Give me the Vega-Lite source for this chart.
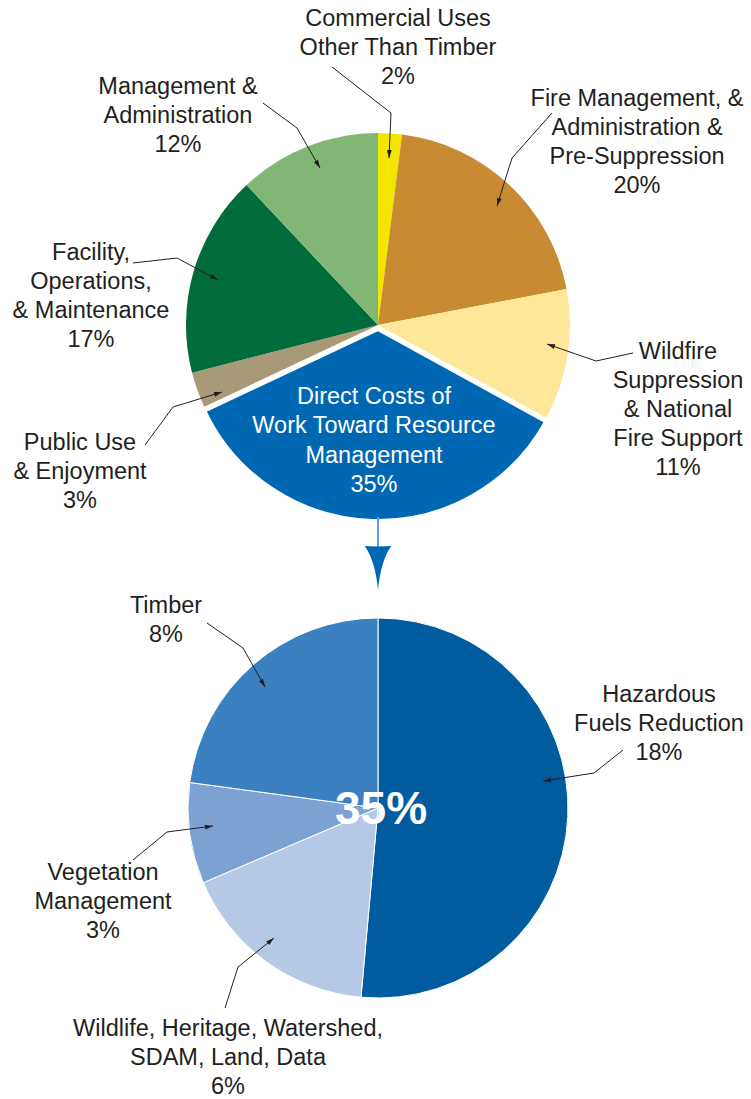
{
  "$schema": "https://vega.github.io/schema/vega-lite/v6.json",
  "width": 751,
  "height": 1099,
  "padding": 0,
  "autosize": {"type": "none"},
  "background": "white",
  "config": {"view": {"stroke": null}, "font": "Liberation Sans"},
  "datasets": {
    "top": [
      {"name": "Commercial Uses Other Than Timber", "value": 2, "ord": 1},
      {"name": "Fire Management, & Administration & Pre-Suppression", "value": 20, "ord": 2},
      {"name": "Wildfire Suppression & National Fire Support", "value": 11, "ord": 3},
      {"name": "Direct Costs of Work Toward Resource Management", "value": 35, "ord": 4},
      {"name": "Public Use & Enjoyment", "value": 3, "ord": 5},
      {"name": "Facility, Operations, & Maintenance", "value": 17, "ord": 6},
      {"name": "Management & Administration", "value": 12, "ord": 7}
    ],
    "bottom": [
      {"name": "Hazardous Fuels Reduction", "value": 18, "ord": 1},
      {"name": "Wildlife, Heritage, Watershed, SDAM, Land, Data", "value": 6, "ord": 2},
      {"name": "Vegetation Management", "value": 3, "ord": 3},
      {"name": "Timber", "value": 8, "ord": 4}
    ],
    "labels": [
      {"text": "Commercial Uses\nOther Than Timber\n2%", "x": 398, "y": 26, "inside": false},
      {"text": "Management &\nAdministration\n12%", "x": 178, "y": 94, "inside": false},
      {"text": "Fire Management, &\nAdministration &\nPre-Suppression\n20%", "x": 637, "y": 106, "inside": false},
      {"text": "Wildfire\nSuppression\n& National\nFire Support\n11%", "x": 678, "y": 359, "inside": false},
      {"text": "Facility,\nOperations,\n& Maintenance\n17%", "x": 91, "y": 260, "inside": false},
      {"text": "Public Use\n& Enjoyment\n3%", "x": 80, "y": 450, "inside": false},
      {"text": "Direct Costs of\nWork Toward Resource\nManagement\n35%", "x": 374, "y": 404, "inside": true},
      {"text": "Timber\n8%", "x": 166, "y": 613, "inside": false},
      {"text": "Hazardous\nFuels Reduction\n18%", "x": 659, "y": 702, "inside": false},
      {"text": "Vegetation\nManagement\n3%", "x": 103, "y": 880, "inside": false},
      {"text": "Wildlife, Heritage, Watershed,\nSDAM, Land, Data\n6%", "x": 228, "y": 1036, "inside": false}
    ],
    "leaders": [
      {"id": "Commercial", "ax": 332, "ay": 67, "bx": 391, "by": 113, "tx": 389, "ty": 158},
      {"id": "Management", "ax": 263, "ay": 103, "bx": 297, "by": 128, "tx": 320, "ty": 168},
      {"id": "Fire", "ax": 552, "ay": 113, "bx": 512, "by": 158, "tx": 497, "ty": 206},
      {"id": "Wildfire", "ax": 633, "ay": 353, "bx": 596, "by": 361, "tx": 547, "ty": 344},
      {"id": "Facility", "ax": 133, "ay": 263, "bx": 177, "by": 258, "tx": 218, "ty": 280},
      {"id": "Public", "ax": 145, "ay": 445, "bx": 173, "by": 407, "tx": 222, "ty": 392},
      {"id": "Timber", "ax": 207, "ay": 623, "bx": 243, "by": 648, "tx": 265, "ty": 687},
      {"id": "Hazardous", "ax": 623, "ay": 750, "bx": 594, "by": 773, "tx": 543, "ty": 781},
      {"id": "Vegetation", "ax": 133, "ay": 860, "bx": 167, "by": 832, "tx": 213, "ty": 826},
      {"id": "Wildlife", "ax": 225, "ay": 1008, "bx": 238, "by": 967, "tx": 274, "ty": 938}
    ],
    "connector": [{"x": 378, "y": 517, "y2": 548, "hy": 568}],
    "center": [{"text": "35%", "x": 381, "y": 824}]
  },
  "resolve": {"scale": {"theta": "independent"}},
  "layer": [
    {
      "data": {"name": "top"},
      "transform": [
        {"stack": "value", "groupby": [], "sort": [{"field": "ord", "order": "ascending"}], "as": ["t0", "t1"]},
        {"filter": "datum.ord != 4"}
      ],
      "mark": {"type": "arc", "outerRadius": 192, "innerRadius": 0},
      "encoding": {
        "x": {"datum": 378, "type": "quantitative", "scale": {"domain": [0, 751], "nice": false, "zero": false}, "axis": null},
        "y": {"datum": 325, "type": "quantitative", "scale": {"domain": [0, 1099], "nice": false, "zero": false, "reverse": true}, "axis": null},
        "theta": {"field": "t0", "type": "quantitative", "scale": {"domain": [0, 100]}},
        "theta2": {"field": "t1"},
        "color": {"field": "name", "type": "nominal", "legend": null,
          "scale": {
            "domain": ["Commercial Uses Other Than Timber", "Fire Management, & Administration & Pre-Suppression", "Wildfire Suppression & National Fire Support", "Direct Costs of Work Toward Resource Management", "Public Use & Enjoyment", "Facility, Operations, & Maintenance", "Management & Administration", "Hazardous Fuels Reduction", "Wildlife, Heritage, Watershed, SDAM, Land, Data", "Vegetation Management", "Timber"],
            "range": ["#F4E500", "#C88B31", "#FEE798", "#0068B3", "#A99A77", "#006B3B", "#80B774", "#005C9F", "#B5C8E6", "#7BA2D3", "#3B81C1"]
          }}
      }
    },
    {
      "data": {"name": "top"},
      "transform": [
        {"stack": "value", "groupby": [], "sort": [{"field": "ord", "order": "ascending"}], "as": ["t0", "t1"]},
        {"filter": "datum.ord == 4"}
      ],
      "mark": {"type": "arc", "outerRadius": 192, "innerRadius": 0, "stroke": "white", "strokeWidth": 4, "strokeJoin": "miter"},
      "encoding": {
        "x": {"datum": 378, "type": "quantitative", "scale": {"domain": [0, 751], "nice": false, "zero": false}, "axis": null},
        "y": {"datum": 329, "type": "quantitative", "scale": {"domain": [0, 1099], "nice": false, "zero": false, "reverse": true}, "axis": null},
        "theta": {"field": "t0", "type": "quantitative", "scale": {"domain": [0, 100]}},
        "theta2": {"field": "t1"},
        "color": {"field": "name", "type": "nominal", "legend": null}
      }
    },
    {
      "data": {"name": "bottom"},
      "transform": [
        {"stack": "value", "groupby": [], "sort": [{"field": "ord", "order": "ascending"}], "as": ["t0", "t1"]}
      ],
      "mark": {"type": "arc", "outerRadius": 190, "innerRadius": 0, "stroke": "white", "strokeWidth": 1},
      "encoding": {
        "x": {"datum": 378, "type": "quantitative", "scale": {"domain": [0, 751], "nice": false, "zero": false}, "axis": null},
        "y": {"datum": 808, "type": "quantitative", "scale": {"domain": [0, 1099], "nice": false, "zero": false, "reverse": true}, "axis": null},
        "theta": {"field": "t0", "type": "quantitative", "scale": {"domain": [0, 35]}},
        "theta2": {"field": "t1"},
        "color": {"field": "name", "type": "nominal", "legend": null}
      }
    },
    {
      "data": {"name": "connector"},
      "mark": {"type": "rule", "color": "#5D9FD8", "strokeWidth": 2},
      "encoding": {
        "x": {"field": "x", "type": "quantitative", "scale": {"domain": [0, 751], "nice": false, "zero": false}, "axis": null},
        "y": {"field": "y", "type": "quantitative", "scale": {"domain": [0, 1099], "nice": false, "zero": false, "reverse": true}, "axis": null},
        "y2": {"field": "y2"}
      }
    },
    {
      "data": {"name": "connector"},
      "mark": {"type": "point", "filled": true, "color": "#0068B3", "opacity": 1, "size": 1936, "strokeWidth": 0,
        "shape": "M-0.6,-1Q0,-0.96,0.6,-1Q0.12,-0.3,0,1Q-0.12,-0.3,-0.6,-1Z"},
      "encoding": {
        "x": {"field": "x", "type": "quantitative", "scale": {"domain": [0, 751], "nice": false, "zero": false}, "axis": null},
        "y": {"field": "hy", "type": "quantitative", "scale": {"domain": [0, 1099], "nice": false, "zero": false, "reverse": true}, "axis": null}
      }
    },
    {
      "data": {"name": "leaders"},
      "mark": {"type": "rule", "color": "#231F20", "strokeWidth": 1},
      "encoding": {
        "x": {"field": "ax", "type": "quantitative", "scale": {"domain": [0, 751], "nice": false, "zero": false}, "axis": null},
        "y": {"field": "ay", "type": "quantitative", "scale": {"domain": [0, 1099], "nice": false, "zero": false, "reverse": true}, "axis": null},
        "x2": {"field": "bx"},
        "y2": {"field": "by"}
      }
    },
    {
      "data": {"name": "leaders"},
      "mark": {"type": "rule", "color": "#231F20", "strokeWidth": 1},
      "encoding": {
        "x": {"field": "bx", "type": "quantitative", "scale": {"domain": [0, 751], "nice": false, "zero": false}, "axis": null},
        "y": {"field": "by", "type": "quantitative", "scale": {"domain": [0, 1099], "nice": false, "zero": false, "reverse": true}, "axis": null},
        "x2": {"field": "tx"},
        "y2": {"field": "ty"}
      }
    },
    {
      "data": {"name": "leaders"},
      "transform": [
        {"calculate": "atan2(datum.tx - datum.bx, datum.by - datum.ty) * 180 / PI", "as": "ang"}
      ],
      "mark": {"type": "point", "filled": true, "color": "#231F20", "opacity": 1, "size": 64, "strokeWidth": 0,
        "shape": "M0,0L-0.6,2L0.6,2Z"},
      "encoding": {
        "x": {"field": "tx", "type": "quantitative", "scale": {"domain": [0, 751], "nice": false, "zero": false}, "axis": null},
        "y": {"field": "ty", "type": "quantitative", "scale": {"domain": [0, 1099], "nice": false, "zero": false, "reverse": true}, "axis": null},
        "angle": {"field": "ang", "type": "quantitative", "scale": null}
      }
    },
    {
      "data": {"name": "labels"},
      "transform": [{"filter": "!datum.inside"}],
      "mark": {"type": "text", "align": "center", "baseline": "alphabetic", "lineBreak": "\n", "lineHeight": 29, "fontSize": 23.5, "font": "Liberation Sans", "color": "#231F20"},
      "encoding": {
        "x": {"field": "x", "type": "quantitative", "scale": {"domain": [0, 751], "nice": false, "zero": false}, "axis": null},
        "y": {"field": "y", "type": "quantitative", "scale": {"domain": [0, 1099], "nice": false, "zero": false, "reverse": true}, "axis": null},
        "text": {"field": "text"}
      }
    },
    {
      "data": {"name": "labels"},
      "transform": [{"filter": "datum.inside"}],
      "mark": {"type": "text", "align": "center", "baseline": "alphabetic", "lineBreak": "\n", "lineHeight": 29.3, "fontSize": 23.5, "font": "Liberation Sans", "color": "white"},
      "encoding": {
        "x": {"field": "x", "type": "quantitative", "scale": {"domain": [0, 751], "nice": false, "zero": false}, "axis": null},
        "y": {"field": "y", "type": "quantitative", "scale": {"domain": [0, 1099], "nice": false, "zero": false, "reverse": true}, "axis": null},
        "text": {"field": "text"}
      }
    },
    {
      "data": {"name": "center"},
      "mark": {"type": "text", "align": "center", "baseline": "alphabetic", "fontSize": 46, "fontWeight": "bold", "font": "Liberation Sans", "color": "white"},
      "encoding": {
        "x": {"field": "x", "type": "quantitative", "scale": {"domain": [0, 751], "nice": false, "zero": false}, "axis": null},
        "y": {"field": "y", "type": "quantitative", "scale": {"domain": [0, 1099], "nice": false, "zero": false, "reverse": true}, "axis": null},
        "text": {"field": "text"}
      }
    }
  ]
}
